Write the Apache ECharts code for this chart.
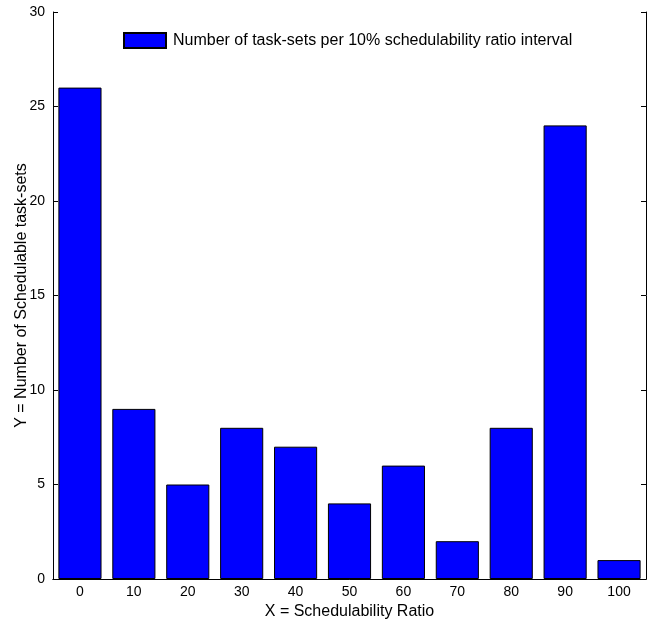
<!DOCTYPE html>
<html><head><meta charset="utf-8">
<script src="https://cdn.jsdelivr.net/npm/echarts@6/dist/echarts.min.js"></script>
<style>html,body{margin:0;padding:0;background:#fff}#c{width:656px;height:623px}</style>
</head><body><div id="c"></div>
<script>
const categories = ['0','10','20','30','40','50','60','70','80','90','100'];
const counts = [26, 9, 5, 8, 7, 4, 6, 2, 8, 24, 1];
const yTicks = [0, 5, 10, 15, 20, 25, 30];
const seriesName = 'Number of task-sets per 10% schedulability ratio interval';

const font = 'Arial, "Liberation Sans", sans-serif';
const chart = echarts.init(document.getElementById('c'), null, {renderer:'canvas'});
chart.setOption({
  animation: false,
  backgroundColor: '#fff',
  grid: {left: 53, right: 10, top: 12, bottom: 44, containLabel: false, outerBoundsMode: 'none'},
  legend: {
    top: 32, left: 123, itemWidth: 42, itemHeight: 15, itemGap: 6, padding: 0,
    icon: 'rect',
    textStyle: {fontFamily: font, fontSize: 16, color: '#000', padding:[0,0,0,2]},
    data: [seriesName]
  },
  xAxis: [{
    type: 'category', data: categories, boundaryGap: true,
    name: 'X = Schedulability Ratio', nameLocation: 'middle', nameGap: 23,
    nameTextStyle: {fontFamily: font, fontSize: 16, color: '#000'},
    axisLine: {lineStyle: {color: '#000', width: 1}},
    axisTick: {inside: true, length: 5, alignWithLabel: true, lineStyle: {color: '#000'}},
    axisLabel: {fontFamily: font, fontSize: 14, color: '#000', margin: 6},
    splitLine: {show: false}
  },{
    type: 'category', data: categories, position: 'top', boundaryGap: true,
    axisLine: {lineStyle: {color: '#000', width: 1}},
    axisTick: {inside: true, length: 5, alignWithLabel: true, lineStyle: {color: '#000'}},
    axisLabel: {show: false}
  }],
  yAxis: [{
    type: 'value', min: yTicks[0], max: yTicks[yTicks.length-1], interval: 5,
    name: 'Y = Number of Schedulable task-sets', nameLocation: 'middle', nameGap: 23,
    nameMoveOverlap: false,
    nameTextStyle: {fontFamily: font, fontSize: 16, color: '#000'},
    axisLine: {show: true, lineStyle: {color: '#000', width: 1}},
    axisTick: {show: true, inside: true, length: 5, lineStyle: {color: '#000'}},
    axisLabel: {fontFamily: font, fontSize: 14, color: '#000', margin: 8},
    splitLine: {show: false}
  },{
    type: 'value', min: yTicks[0], max: yTicks[yTicks.length-1], interval: 5, position: 'right',
    axisLine: {show: true, lineStyle: {color: '#000', width: 1}},
    axisTick: {show: true, inside: true, length: 5, lineStyle: {color: '#000'}},
    axisLabel: {show: false},
    splitLine: {show: false}
  }],
  series: [{
    name: seriesName, type: 'bar', data: counts, xAxisIndex: 0, yAxisIndex: 0,
    barWidth: '80%',
    itemStyle: {color: '#0000FF', borderColor: '#000', borderWidth: 1}
  }]
});
</script></body></html>
